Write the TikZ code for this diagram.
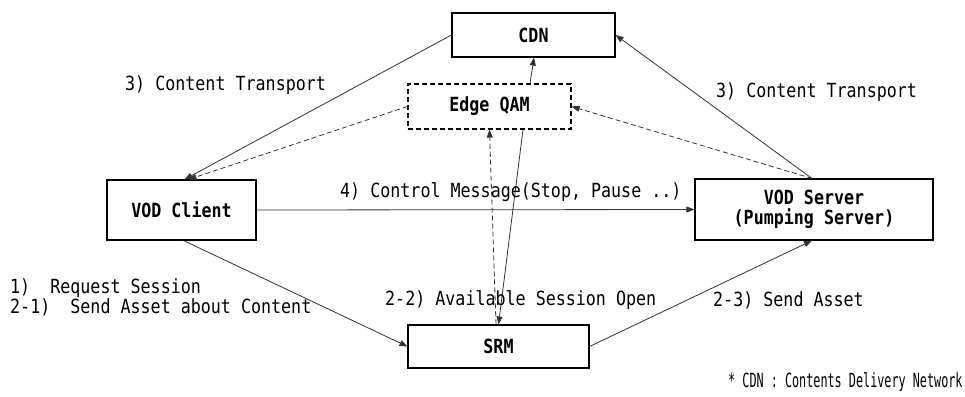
\documentclass[tikz,border=0pt]{standalone}
\usepackage{fontspec}
\usetikzlibrary{arrows.meta,calc}
\newfontfamily\lblfont[FakeStretch=0.855]{DejaVu Sans Mono}
\newfontfamily\notefont[FakeStretch=0.605]{DejaVu Sans Mono}
\begin{document}
\begin{tikzpicture}[x=1pt,y=-1pt,
  box/.style={draw=black,line width=1.1pt,fill=white,inner sep=0pt,
    font=\lblfont\bfseries\fontsize{19.5}{20}\selectfont,align=center},
  dbox/.style={box,dash pattern=on 5pt off 3pt},
  conn/.style={draw=black!80,line width=0.8pt,-{Triangle[length=8pt,width=6pt]}},
  dconn/.style={conn,dash pattern=on 5pt off 3pt},
  lbl/.style={anchor=west,inner sep=0pt,font=\lblfont\fontsize{19.5}{20}\selectfont},
  note/.style={anchor=west,inner sep=0pt,font=\notefont\fontsize{19.5}{20}\selectfont}]
\useasboundingbox (0,0) rectangle (965,396);

% boxes
\node[box,minimum width=163pt,minimum height=44pt] (cdn) at (533.5,35) {CDN};
\node[dbox,minimum width=163pt,minimum height=45pt] (qam) at (489.5,106.5) {Edge QAM};
\node[box,minimum width=149pt,minimum height=60pt] (client) at (181.5,210) {VOD Client};
\node[box,minimum width=238pt,minimum height=61pt] (server) at (814,209.5) {VOD Server\\(Pumping Server)};
\node[box,minimum width=181pt,minimum height=43pt] (srm) at (498.5,346.5) {SRM};

% connectors
\draw[conn] (cdn.west) -- ([xshift=3pt]client.north);
\draw[dconn] (qam.west) -- ([xshift=7pt]client.north);
\draw[conn] ([xshift=-2pt]server.north) -- (cdn.east);
\draw[dconn] ([xshift=-2pt]server.north) -- (qam.east);
\draw[conn] (qam.north -| 530,0) -- (cdn.south -| 534,0);
\draw[conn] (client.east) -- (server.west);
\draw[conn] ([xshift=2pt]client.south) -- (srm.west);
\draw[conn] (srm.east) -- ([xshift=-2pt]server.south);
\draw[conn] ([xshift=33.5pt]qam.south) -- (srm.north);
\draw[dconn] ([xshift=-2.5pt]srm.north) -- (qam.south);

% labels
\node[lbl] (l1) at (125,85) {3) Content Transport};
\node[lbl] (l2) at (716,92) {3) Content Transport};
\node[lbl] (l3) at (340,192) {4) Control Message(Stop, Pause ..)};
\node[lbl] (l4) at (10,288) {1)~ Request Session};
\node[lbl] (l5) at (10,307) {2-1)~ Send Asset about Content};
\node[lbl] (l6) at (385,300) {2-2) Available Session Open};
\node[lbl] (l7) at (713,300) {2-3) Send Asset};
\node[note] (fn) at (728,382) {* CDN : Contents Delivery Network};
\end{tikzpicture}
\end{document}
